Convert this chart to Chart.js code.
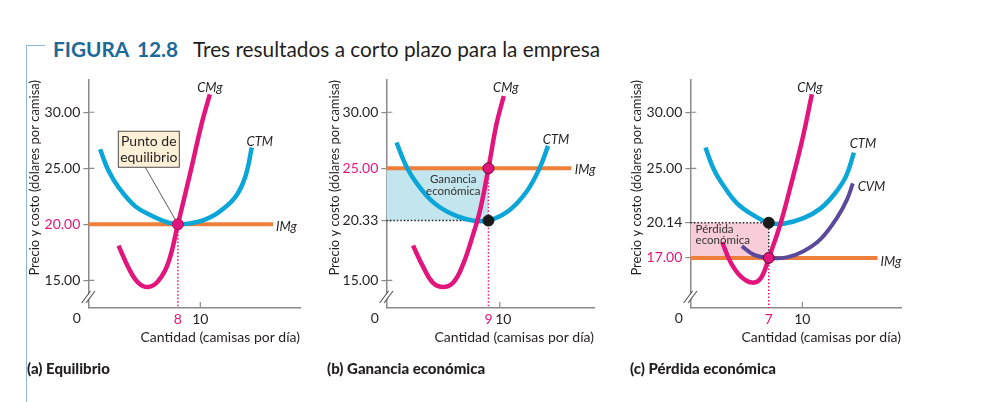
<!DOCTYPE html>
<html lang="es">
<head>
<meta charset="utf-8">
<title>Figura 12.8</title>
<script src="https://cdn.jsdelivr.net/npm/chart.js@4.4.1/dist/chart.umd.min.js"></script>
<style>
    html, body { margin: 0; padding: 0; background: #fff; }
    #figura { position: relative; width: 992px; height: 402px; overflow: hidden; font-family: Lato, "Noto Sans", sans-serif; color: #231f20; }
    #figura canvas { position: absolute; top: 0; }
    .marco { position: absolute; left: 26px; top: 45px; width: 18px; height: 370px; border-left: 1.5px solid #8fb7d6; border-top: 1.5px solid #8fb7d6; }
    .titulo { position: absolute; top: 39px; font-size: 20.8px; line-height: 20.8px; white-space: nowrap; }
    .num { font-weight: 700; color: #1d6997; }
    .panel { position: absolute; top: 361px; font-size: 15px; line-height: 15px; font-weight: 900; white-space: nowrap; }
</style>
</head>
<body>
<div id="figura">
    <div class="marco"></div>
    <span class="titulo num" style="left:53px">FIGURA</span>
    <span class="titulo num" style="left:137px">12.8</span>
    <span class="titulo" style="left:193px">Tres resultados a corto plazo para la empresa</span>
    <canvas id="panelA" width="320" height="402" style="left:0px"></canvas>
    <canvas id="panelB" width="320" height="402" style="left:300px"></canvas>
    <canvas id="panelC" width="320" height="402" style="left:600px"></canvas>
    <span class="panel" style="left:27px">(a) Equilibrio</span>
    <span class="panel" style="left:327px">(b) Ganancia económica</span>
    <span class="panel" style="left:630px">(c) Pérdida económica</span>
</div>
<script>
// Límites del eje y (el eje está cortado, no empieza en cero)
const Y_MIN = 12.53;
const Y_MAX = 32.88;

// ---- (a) Equilibrio ----
const cantidadCMgA = [2.7, 3.6, 4.45, 5.35, 6.25, 7.15, 8.0, 9.2, 10.1, 10.85];
const costoCMgA    = [18.1, 16.1, 14.8, 14.4, 14.95, 16.6, 20.0, 25.0, 28.9, 31.6];
const cantidadCTMA = [1.05, 1.8, 2.7, 4.2, 5.7, 7.15, 8.0, 9.0, 10.1, 11.6, 13.1, 14.0, 14.6];
const costoCTMA    = [26.7, 24.8, 23.3, 21.6, 20.75, 20.15, 20.0, 20.08, 20.3, 21.05, 22.4, 24.2, 26.85];
const precioA = 20;
const cantidadA = 8;
const finIMgA = 16.5;
const ticksYA = [15, 20, 25, 30];
const ticksXA = [8, 10];

// ---- (b) Ganancia económica ----
const cantidadCMgB = [2.35, 3.25, 4.1, 5.0, 5.9, 6.75, 7.65, 8.25, 9.0, 9.7, 10.35];
const costoCMgB    = [18.1, 16.2, 14.8, 14.4, 14.8, 16.4, 19.1, 21.2, 25.0, 28.9, 31.45];
const cantidadCTMB = [0.9, 1.75, 2.65, 4.1, 5.6, 7.05, 8.4, 9.4, 10.9, 12.35, 13.5, 14.25];
const costoCTMB    = [27.3, 25.2, 23.7, 22.0, 21.0, 20.45, 20.28, 20.45, 21.3, 22.9, 25.0, 27.0];
const precioB = 25;
const cantidadB = 9;
const costoMedioB = 20.33;
const finIMgB = 16.3;
const ticksYB = [15, 20.33, 25, 30];
const ticksXB = [9, 10];

// ---- (c) Pérdida económica ----
const cantidadCMgC = [2.85, 3.55, 4.45, 5.5, 6.3, 7.0, 8.0, 9.0, 10.0, 10.85];
const costoCMgC    = [18.4, 16.7, 15.4, 14.8, 15.2, 17.0, 19.9, 23.6, 27.6, 31.6];
const cantidadCTMC = [1.35, 2.1, 3.0, 4.15, 5.65, 7.0, 8.3, 10.1, 11.6, 12.9, 13.9, 14.6];
const costoCTMC    = [26.85, 24.9, 23.4, 21.9, 20.8, 20.14, 20.05, 20.55, 21.4, 22.75, 24.3, 26.4];
const cantidadCVMC = [4.6, 5.65, 7.0, 8.6, 10.1, 11.6, 13.1, 14.0, 14.5];
const costoCVMC    = [18.05, 17.3, 17.0, 17.05, 17.6, 18.65, 20.6, 22.25, 23.65];
const precioC = 17;
const cantidadC = 7;
const costoMedioC = 20.14;
const finIMgC = 16.7;
const ticksYC = [17, 20.14, 25, 30];
const ticksXC = [7, 10];

// Colores y fuente
const MAGENTA = '#e2157c';
const CIAN = '#0aa6d8';
const NARANJA = '#ee7f3b';
const MORADO = '#5b4a9b';
const TEXTO = '#231f20';
const GRIS = '#8a8a8a';
const FUENTE = 'Lato, "Noto Sans", sans-serif';

let graficoA = null;
let graficoB = null;
let graficoC = null;

function pares(xs, ys) {
    return xs.map((x, i) => ({ x: x, y: ys[i] }));
}

function curva(xs, ys, color, ancho, orden) {
    return { data: pares(xs, ys), borderColor: color, borderWidth: ancho, pointRadius: 0, tension: 0.4, fill: false, order: orden };
}

function punteada(puntos, color) {
    return { data: puntos, borderColor: color, borderWidth: 1.5, borderDash: [1.5, 2], pointRadius: 0, tension: 0, fill: false, order: 4 };
}

function punto(x, y, color, borde) {
    return { data: [{ x: x, y: y }], showLine: false, pointRadius: 5.5, pointBackgroundColor: color, pointBorderColor: borde, pointBorderWidth: 1, order: 0 };
}

function area(x0, x1, arriba, abajo, color) {
    return { data: [{ x: x0, y: arriba }, { x: x1, y: arriba }], borderWidth: 0, pointRadius: 0, tension: 0, backgroundColor: color, fill: { value: abajo }, order: 6 };
}

// Dibuja marcas, corte del eje y rótulos de las curvas
function decoracion(cfg) {
    return {
        id: 'decoracion',
        beforeDatasetsDraw(chart) {
            const { ctx, chartArea, scales: { x, y } } = chart;
            ctx.save();
            ctx.strokeStyle = GRIS;
            ctx.lineWidth = 1.2;
            ctx.beginPath();
            cfg.ticksY.forEach(v => {
                const py = y.getPixelForValue(v);
                ctx.moveTo(chartArea.left, py);
                ctx.lineTo(chartArea.left + 6, py);
            });
            const px10 = x.getPixelForValue(10);
            ctx.moveTo(px10, chartArea.bottom);
            ctx.lineTo(px10, chartArea.bottom - 6);
            ctx.stroke();
            ctx.restore();
        },
        afterDatasetsDraw(chart) {
            const { ctx, chartArea, scales: { x, y } } = chart;
            const izq = chartArea.left;
            const abajo = chartArea.bottom;
            ctx.save();

            // origen
            ctx.fillStyle = TEXTO;
            ctx.font = '14px ' + FUENTE;
            ctx.textAlign = 'center';
            ctx.textBaseline = 'middle';
            ctx.fillText('0', izq - 11.5, abajo + 10);

            // corte del eje y
            const by = abajo - 11;
            ctx.strokeStyle = '#fff';
            ctx.lineWidth = 3;
            ctx.beginPath();
            ctx.moveTo(izq - 4.5, by + 6);
            ctx.lineTo(izq + 4.5, by - 6);
            ctx.stroke();
            ctx.strokeStyle = '#555';
            ctx.lineWidth = 1.1;
            ctx.beginPath();
            [-2.2, 2.2].forEach(d => {
                ctx.moveTo(izq - 4.5 + d, by + 6);
                ctx.lineTo(izq + 4.5 + d, by - 6);
            });
            ctx.stroke();

            // rótulos de las curvas
            ctx.font = 'italic 13px ' + FUENTE;
            ctx.fillStyle = TEXTO;
            cfg.etiquetas.forEach(e => {
                const n = e.xs.length - 1;
                const px = x.getPixelForValue(e.xs[n]);
                const py = y.getPixelForValue(e.ys[n]);
                ctx.textAlign = e.alinear;
                ctx.fillText(e.texto, px + e.dx, py + e.dy);
            });

            // textos interiores
            if (cfg.caja) {
                const c = cfg.caja;
                const cx = x.getPixelForValue(c.x);
                const cy = y.getPixelForValue(c.y);
                const px = x.getPixelForValue(c.hastaX);
                const py = y.getPixelForValue(c.hastaY);
                const x0 = cx - c.ancho / 2;
                const y0 = cy - c.alto / 2;
                const sx = cx - 3.5;
                const sy = y0 + c.alto;
                const largo = Math.hypot(px - sx, py - sy);
                ctx.strokeStyle = '#333';
                ctx.lineWidth = 0.8;
                ctx.beginPath();
                ctx.moveTo(sx, sy);
                ctx.lineTo(px - (px - sx) * 5 / largo, py - (py - sy) * 5 / largo);
                ctx.stroke();
                ctx.fillStyle = '#fdf0d6';
                ctx.fillRect(x0, y0, c.ancho, c.alto);
                ctx.strokeStyle = '#3a3a3a';
                ctx.lineWidth = 0.9;
                ctx.strokeRect(x0, y0, c.ancho, c.alto);
                ctx.fillStyle = TEXTO;
                ctx.font = '14px ' + FUENTE;
                ctx.textAlign = 'center';
                ctx.fillText(c.lineas[0], cx, cy - 7.5);
                ctx.fillText(c.lineas[1], cx, cy + 8.5);
            }
            if (cfg.nota) {
                const t = cfg.nota;
                const tx = x.getPixelForValue(t.x);
                const ty = y.getPixelForValue(t.y);
                ctx.fillStyle = '#333';
                ctx.font = '11.5px ' + FUENTE;
                ctx.textAlign = t.alinear;
                ctx.fillText(t.lineas[0], tx, ty - t.salto / 2);
                ctx.fillText(t.lineas[1], tx, ty + t.salto / 2);
            }
            ctx.restore();
        }
    };
}

function crearPanel(canvasId, cfg) {
    const ctx = document.getElementById(canvasId).getContext('2d');
    return new Chart(ctx, {
        type: 'line',
        data: { datasets: cfg.series },
        options: {
            responsive: false,
            animation: false,
            events: [],
            layout: { padding: { left: cfg.padIzq, right: cfg.padDer, top: 80, bottom: 56.1 } },
            plugins: {
                legend: { display: false },
                tooltip: { enabled: false }
            },
            scales: {
                x: {
                    type: 'linear',
                    min: 0,
                    max: cfg.xMax,
                    afterBuildTicks: s => { s.ticks = cfg.ticksX.map(v => ({ value: v })); },
                    afterFit: s => { s.height = 37.9; },
                    grid: { display: false, drawTicks: false },
                    border: { display: true, color: GRIS, width: 1.5 },
                    ticks: {
                        autoSkip: false,
                        maxRotation: 0,
                        padding: 2.6,
                        font: { family: FUENTE, size: 14 },
                        color: c => c.tick.value === cfg.cantidad ? MAGENTA : TEXTO,
                        callback: cfg.etiquetaX || (v => String(v))
                    },
                    title: {
                        display: true,
                        text: 'Cantidad (camisas por día)',
                        align: 'end',
                        padding: 0,
                        color: TEXTO,
                        font: { family: FUENTE, size: 14 }
                    }
                },
                y: {
                    type: 'linear',
                    min: Y_MIN,
                    max: Y_MAX,
                    afterBuildTicks: s => { s.ticks = cfg.ticksY.map(v => ({ value: v })); },
                    afterFit: s => { s.width = cfg.anchoY; },
                    grid: { display: true, drawOnChartArea: false, drawTicks: true, tickLength: 5, color: GRIS, lineWidth: 1.2 },
                    border: { display: true, color: GRIS, width: 1.5 },
                    ticks: {
                        padding: 3,
                        font: { family: FUENTE, size: 14 },
                        color: c => c.tick.value === cfg.precio ? MAGENTA : TEXTO,
                        callback: v => Number(v).toFixed(2)
                    },
                    title: {
                        display: true,
                        text: 'Precio y costo (dólares por camisa)',
                        align: 'end',
                        padding: 0,
                        color: TEXTO,
                        font: { family: FUENTE, size: 13 }
                    }
                }
            }
        },
        plugins: [decoracion(cfg)]
    });
}

document.addEventListener('DOMContentLoaded', function() {
    // (a) Equilibrio
    graficoA = crearPanel('panelA', {
        padIzq: 27.2, anchoY: 61.1, padDer: 20, xMax: 18.9,
        ticksX: ticksXA, ticksY: ticksYA, precio: precioA, cantidad: cantidadA,
        series: [
            punteada([{ x: cantidadA, y: precioA }, { x: cantidadA, y: Y_MIN }], MAGENTA),
            curva([0, finIMgA], [precioA, precioA], NARANJA, 4, 3),
            curva(cantidadCTMA, costoCTMA, CIAN, 4.5, 2),
            curva(cantidadCMgA, costoCMgA, MAGENTA, 4.5, 1),
            punto(cantidadA, precioA, MAGENTA, '#b0105f')
        ],
        etiquetas: [
            { texto: 'CMg', xs: cantidadCMgA, ys: costoCMgA, dx: 0, dy: -7, alinear: 'center' },
            { texto: 'CTM', xs: cantidadCTMA, ys: costoCTMA, dx: 8, dy: -6, alinear: 'center' },
            { texto: 'IMg', xs: [0, finIMgA], ys: [precioA, precioA], dx: 3, dy: 2.5, alinear: 'left' }
        ],
        caja: { x: 5.4, y: 26.7, ancho: 61, alto: 36, hastaX: cantidadA, hastaY: precioA, lineas: ['Punto de', 'equilibrio'] }
    });

    // (b) Ganancia económica
    graficoB = crearPanel('panelB', {
        padIzq: 27.2, anchoY: 59.1, padDer: 26, xMax: 18.3,
        ticksX: ticksXB, ticksY: ticksYB, precio: precioB, cantidad: cantidadB,
        etiquetaX: v => (v === 10 ? '\u2002' + v : String(v)),
        series: [
            area(0, cantidadB, precioB, costoMedioB, '#c3e5ee'),
            punteada([{ x: 0, y: costoMedioB }, { x: cantidadB, y: costoMedioB }], '#222'),
            punteada([{ x: cantidadB, y: precioB }, { x: cantidadB, y: Y_MIN }], MAGENTA),
            curva([0, finIMgB], [precioB, precioB], NARANJA, 4, 3),
            curva(cantidadCTMB, costoCTMB, CIAN, 4.5, 2),
            curva(cantidadCMgB, costoCMgB, MAGENTA, 4.5, 1),
            punto(cantidadB, precioB, MAGENTA, '#5a0b30'),
            punto(cantidadB, costoMedioB, '#1a1a1a', '#1a1a1a')
        ],
        etiquetas: [
            { texto: 'CMg', xs: cantidadCMgB, ys: costoCMgB, dx: 2, dy: -8, alinear: 'center' },
            { texto: 'CTM', xs: cantidadCTMB, ys: costoCTMB, dx: 8, dy: -6, alinear: 'center' },
            { texto: 'IMg', xs: [0, finIMgB], ys: [precioB, precioB], dx: 3.5, dy: 2, alinear: 'left' }
        ],
        nota: { x: 5.9, y: 23.48, alinear: 'center', salto: 12.5, lineas: ['Ganancia', 'económica'] }
    });

    // (c) Pérdida económica
    graficoC = crearPanel('panelC', {
        padIzq: 29.2, anchoY: 61.1, padDer: 19, xMax: 18.8,
        ticksX: ticksXC, ticksY: ticksYC, precio: precioC, cantidad: cantidadC,
        series: [
            area(0, cantidadC, costoMedioC, precioC, '#f8ccd9'),
            punteada([{ x: 0, y: costoMedioC }, { x: cantidadC, y: costoMedioC }, { x: cantidadC, y: precioC }], '#222'),
            punteada([{ x: cantidadC, y: precioC }, { x: cantidadC, y: Y_MIN }], MAGENTA),
            curva([0, finIMgC], [precioC, precioC], NARANJA, 4, 3),
            curva(cantidadCTMC, costoCTMC, CIAN, 4.5, 2),
            curva(cantidadCVMC, costoCVMC, MORADO, 4, 2),
            curva(cantidadCMgC, costoCMgC, MAGENTA, 4.5, 1),
            punto(cantidadC, precioC, MAGENTA, '#5a0b30'),
            punto(cantidadC, costoMedioC, '#1a1a1a', '#1a1a1a')
        ],
        etiquetas: [
            { texto: 'CMg', xs: cantidadCMgC, ys: costoCMgC, dx: -2, dy: -7, alinear: 'center' },
            { texto: 'CTM', xs: cantidadCTMC, ys: costoCTMC, dx: 9, dy: -8.5, alinear: 'center' },
            { texto: 'CVM', xs: cantidadCVMC, ys: costoCVMC, dx: 5, dy: 3.5, alinear: 'left' },
            { texto: 'IMg', xs: [0, finIMgC], ys: [precioC, precioC], dx: 3, dy: 3.5, alinear: 'left' }
        ],
        nota: { x: 0.47, y: 19.05, alinear: 'left', salto: 11.5, lineas: ['Pérdida', 'económica'] }
    });
});
</script>
</body>
</html>
